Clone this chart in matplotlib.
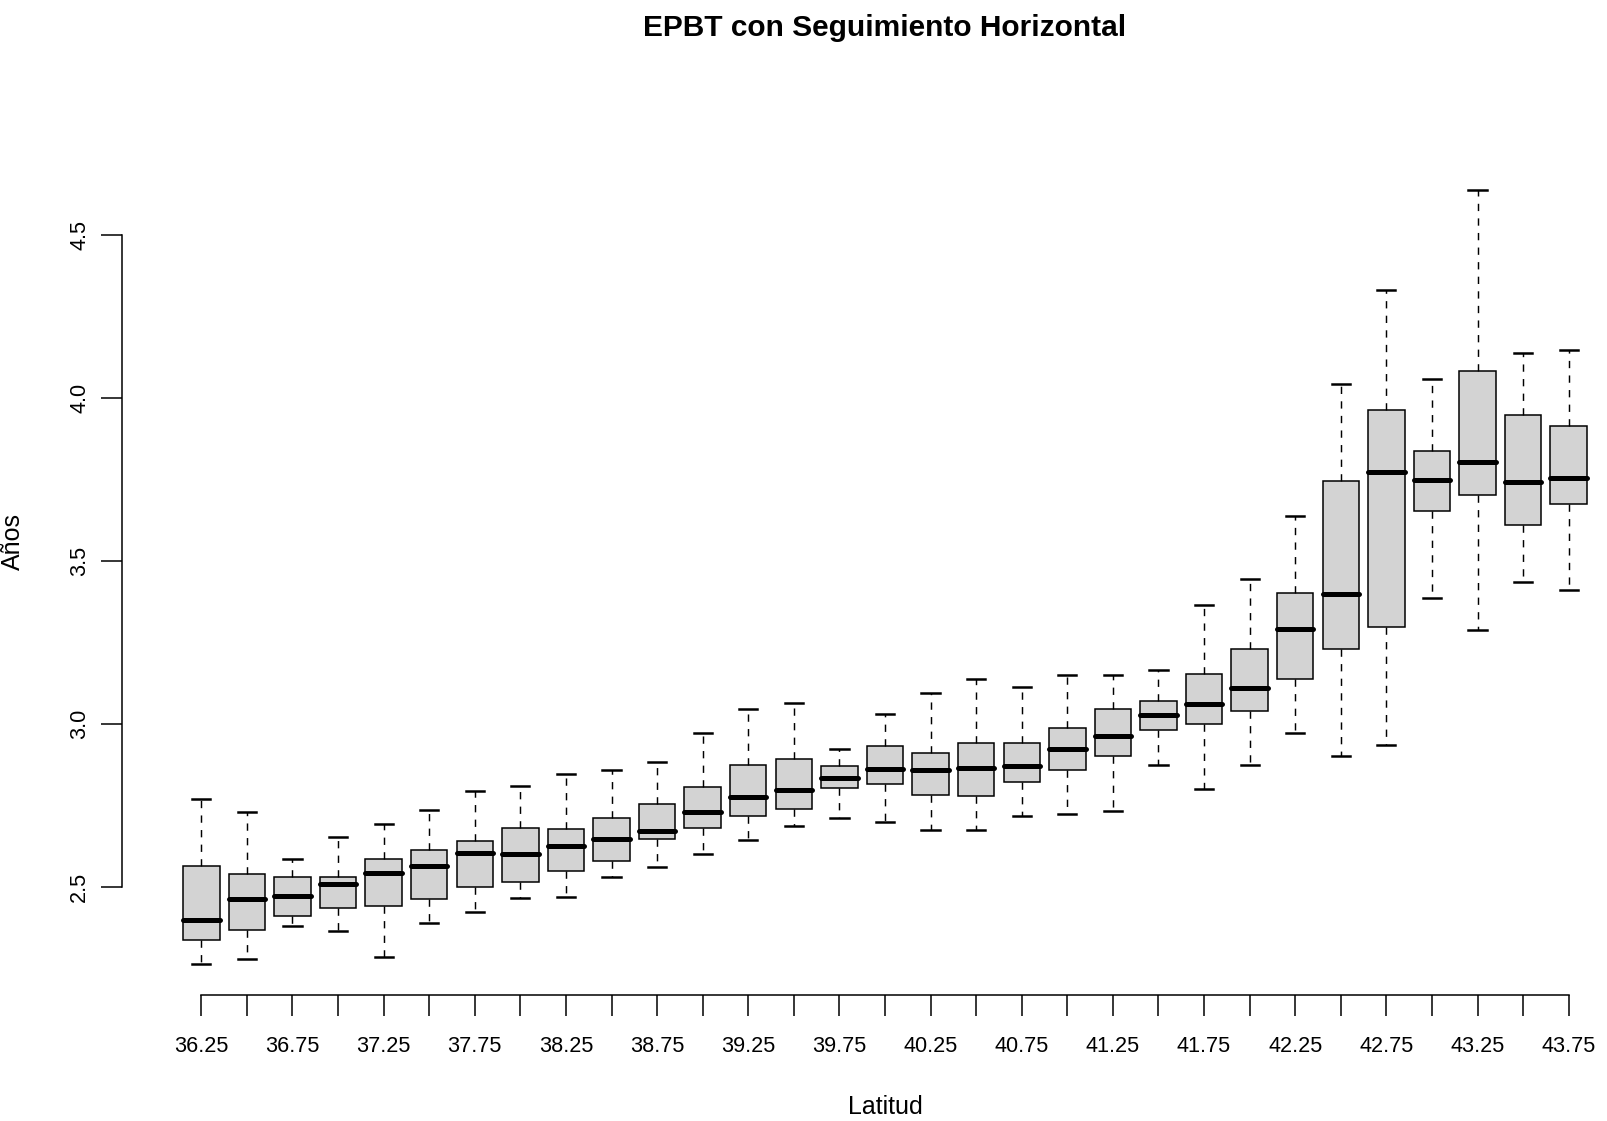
import matplotlib.pyplot as plt

plt.rcParams['font.family'] = ['Liberation Sans', 'DejaVu Sans']

# latitude bins (one box per bin)
latitud = [36.25, 36.5, 36.75, 37.0, 37.25, 37.5, 37.75, 38.0, 38.25, 38.5,
           38.75, 39.0, 39.25, 39.5, 39.75, 40.0, 40.25, 40.5, 40.75, 41.0,
           41.25, 41.5, 41.75, 42.0, 42.25, 42.5, 42.75, 43.0, 43.25, 43.5, 43.75]

# box statistics (EPBT, years)
whislo = [2.265, 2.279, 2.382, 2.366, 2.286, 2.391, 2.425, 2.466, 2.470, 2.531,
          2.563, 2.601, 2.644, 2.686, 2.711, 2.701, 2.676, 2.675, 2.719, 2.725,
          2.732, 2.873, 2.802, 2.875, 2.973, 2.901, 2.935, 3.387, 3.288, 3.436, 3.412]
q1 = [2.338, 2.369, 2.411, 2.437, 2.442, 2.464, 2.501, 2.516, 2.550, 2.580,
      2.647, 2.680, 2.718, 2.740, 2.804, 2.815, 2.782, 2.780, 2.823, 2.860,
      2.901, 2.981, 3.001, 3.041, 3.137, 3.229, 3.296, 3.654, 3.702, 3.611, 3.675]
med = [2.399, 2.464, 2.473, 2.509, 2.543, 2.565, 2.605, 2.601, 2.625, 2.648,
       2.673, 2.730, 2.776, 2.799, 2.835, 2.862, 2.860, 2.864, 2.871, 2.923,
       2.964, 3.029, 3.061, 3.111, 3.291, 3.398, 3.772, 3.748, 3.803, 3.742, 3.755]
q3 = [2.566, 2.541, 2.530, 2.530, 2.587, 2.613, 2.641, 2.682, 2.679, 2.712,
      2.756, 2.806, 2.875, 2.894, 2.872, 2.934, 2.912, 2.941, 2.943, 2.989,
      3.045, 3.070, 3.154, 3.231, 3.401, 3.746, 3.964, 3.837, 4.083, 3.948, 3.914]
whishi = [2.770, 2.729, 2.586, 2.653, 2.693, 2.736, 2.794, 2.809, 2.847, 2.860,
          2.884, 2.973, 3.047, 3.065, 2.924, 3.032, 3.094, 3.139, 3.115, 3.150,
          3.150, 3.167, 3.364, 3.445, 3.637, 4.044, 4.330, 4.058, 4.637, 4.139, 4.147]

stats = []
for i in range(len(latitud)):
    stats.append(dict(whislo=whislo[i], q1=q1[i], med=med[i], q3=q3[i],
                      whishi=whishi[i], fliers=[]))

W, H = 1608, 1121
fig = plt.figure(figsize=(W / 100, H / 100), dpi=100)
# plot region (R style); right edge runs past the image like the original
left, right, top, bottom = 122, 1648, 159.2, 994.7
ax = fig.add_axes([left / W, 1 - bottom / H, (right - left) / W, (bottom - top) / H])

pos = list(range(1, len(latitud) + 1))
ax.bxp(stats, positions=pos, widths=0.8, capwidths=0.4, patch_artist=True,
       boxprops=dict(facecolor='#D3D3D3', edgecolor='black', linewidth=1.1),
       medianprops=dict(color='black', linewidth=3.6, solid_capstyle='round'),
       whiskerprops=dict(color='black', linewidth=1.05, linestyle=(0, (5, 5))),
       capprops=dict(color='black', linewidth=1.8))

n = len(latitud)
ax.set_xlim(0.5 - 0.04 * n, n + 0.5 + 0.04 * n)
ax.set_ylim(2.170, 4.732)

for s in ['top', 'right']:
    ax.spines[s].set_visible(False)
ax.spines['left'].set_bounds(2.5, 4.5)
ax.spines['bottom'].set_bounds(1, n)
ax.spines['left'].set_linewidth(1.1)
ax.spines['bottom'].set_linewidth(1.1)

ax.set_yticks([2.5, 3.0, 3.5, 4.0, 4.5])
ax.set_yticklabels(['2.5', '3.0', '3.5', '4.0', '4.5'])
ax.set_xticks(pos)
ax.set_xticklabels([f"{v:.2f}" if i % 2 == 0 else "" for i, v in enumerate(latitud)])

ax.tick_params(axis='both', direction='out', length=15, width=1.1, labelsize=15.6)
ax.tick_params(axis='x', pad=14.5)
ax.tick_params(axis='y', pad=8, labelrotation=90)
for lab in ax.get_yticklabels():
    lab.set_va('center')

ax.set_xlabel("Latitud", fontsize=18)
ax.xaxis.set_label_coords(0.5, (bottom - 1107) / (bottom - top))
ax.xaxis.label.set_va('center')
ax.set_ylabel("Años", fontsize=18)
ax.yaxis.set_label_coords((13 - left) / (right - left), (bottom - 541) / (bottom - top))
ax.yaxis.label.set_va('center')

fig.text((left + right) / 2 / W, 1 - 27.7 / H, "EPBT con Seguimiento Horizontal",
         ha='center', va='center', fontsize=21.5, fontweight='bold')

fig.savefig("out.png", dpi=100)
